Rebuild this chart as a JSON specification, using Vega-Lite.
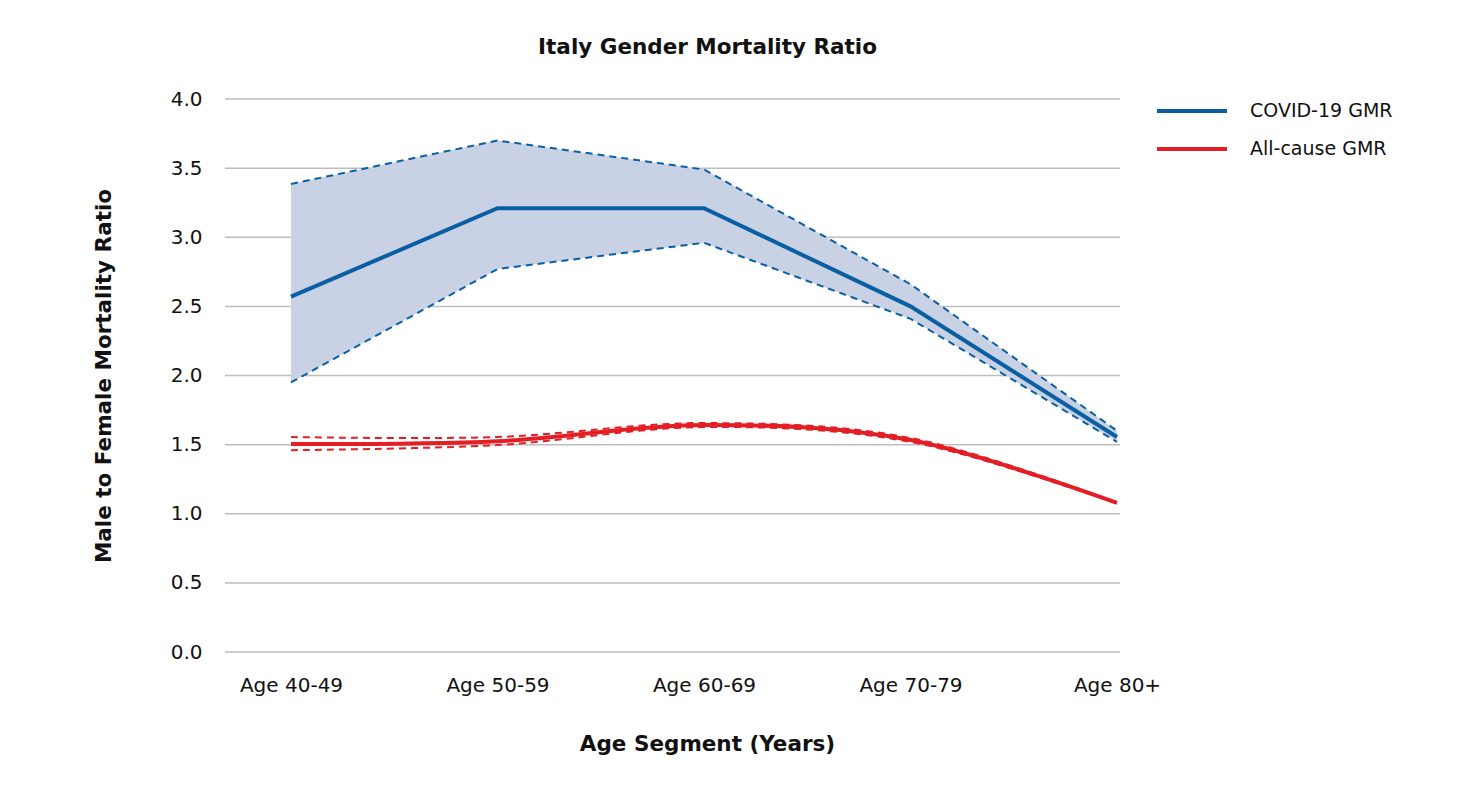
{
  "$schema": "https://vega.github.io/schema/vega-lite/v6.json",
  "width": 895,
  "height": 553,
  "autosize": {"type": "none"},
  "padding": {"left": 225, "top": 99, "right": 354, "bottom": 153},
  "background": "white",
  "title": {"text": "Italy Gender Mortality Ratio", "font": "DejaVu Sans", "fontSize": 21.5, "fontWeight": "bold", "color": "#111111", "anchor": "middle", "frame": "group", "dx": 35, "offset": 31},
  "config": {
    "view": {"stroke": null},
    "font": "DejaVu Sans",
    "axis": {"labelFont": "DejaVu Sans", "titleFont": "DejaVu Sans", "labelColor": "#111111", "titleColor": "#111111"},
    "legend": {"labelFont": "DejaVu Sans"}
  },
  "data": {"values": [
    {"age": "Age 40-49", "series": "COVID-19 GMR", "value": 2.57, "lo": 1.95, "hi": 3.385},
    {"age": "Age 50-59", "series": "COVID-19 GMR", "value": 3.21, "lo": 2.77, "hi": 3.70},
    {"age": "Age 60-69", "series": "COVID-19 GMR", "value": 3.21, "lo": 2.96, "hi": 3.49},
    {"age": "Age 70-79", "series": "COVID-19 GMR", "value": 2.50, "lo": 2.41, "hi": 2.66},
    {"age": "Age 80+", "series": "COVID-19 GMR", "value": 1.555, "lo": 1.52, "hi": 1.60},
    {"age": "Age 40-49", "series": "All-cause GMR", "value": 1.505, "lo": 1.46, "hi": 1.555},
    {"age": "Age 50-59", "series": "All-cause GMR", "value": 1.525, "lo": 1.497, "hi": 1.555},
    {"age": "Age 60-69", "series": "All-cause GMR", "value": 1.642, "lo": 1.627, "hi": 1.656},
    {"age": "Age 70-79", "series": "All-cause GMR", "value": 1.533, "lo": 1.52, "hi": 1.548},
    {"age": "Age 80+", "series": "All-cause GMR", "value": 1.078, "lo": 1.074, "hi": 1.082}
  ]},
  "layer": [
    {
      "data": {"values": [{"grid": 0}, {"grid": 0.5}, {"grid": 1}, {"grid": 1.5}, {"grid": 2}, {"grid": 2.5}, {"grid": 3}, {"grid": 3.5}, {"grid": 4}]},
      "mark": {"type": "rule", "color": "#bdbdbd", "strokeWidth": 1.5},
      "encoding": {
        "y": {"field": "grid", "type": "quantitative",
          "scale": {"domain": [0, 4]},
          "axis": {"title": "Male to Female Mortality Ratio", "format": ".1f", "values": [0, 0.5, 1, 1.5, 2, 2.5, 3, 3.5, 4], "grid": false, "labelFontSize": 20, "labelPadding": 23, "ticks": false, "domain": false, "titleFontSize": 21.5, "titleFontWeight": "bold", "titlePadding": 55}}
      }
    },
    {
      "transform": [{"filter": "datum.series == 'COVID-19 GMR'"}],
      "mark": {"type": "area", "color": "#c8d2e4", "opacity": 1},
      "encoding": {
        "x": {
          "field": "age", "type": "ordinal",
          "sort": ["Age 40-49", "Age 50-59", "Age 60-69", "Age 70-79", "Age 80+"],
          "scale": {"type": "point", "range": [66, 892], "padding": 0},
          "axis": {"title": "Age Segment (Years)", "labelAngle": 0, "labelFontSize": 20, "labelPadding": 23, "ticks": false, "domain": false, "grid": false, "titleFontSize": 21.5, "titleFontWeight": "bold", "titlePadding": 38, "titleX": 482}
        },
        "y": {"field": "lo", "type": "quantitative"},
        "y2": {"field": "hi"}
      }
    },
    {
      "transform": [{"filter": "datum.series == 'COVID-19 GMR'"}],
      "mark": {"type": "line", "color": "#0a5fa3", "strokeWidth": 2, "strokeDash": [7, 5]},
      "encoding": {"x": {"field": "age", "type": "ordinal", "sort": ["Age 40-49", "Age 50-59", "Age 60-69", "Age 70-79", "Age 80+"]}, "y": {"field": "lo", "type": "quantitative"}}
    },
    {
      "transform": [{"filter": "datum.series == 'COVID-19 GMR'"}],
      "mark": {"type": "line", "color": "#0a5fa3", "strokeWidth": 2, "strokeDash": [7, 5]},
      "encoding": {"x": {"field": "age", "type": "ordinal", "sort": ["Age 40-49", "Age 50-59", "Age 60-69", "Age 70-79", "Age 80+"]}, "y": {"field": "hi", "type": "quantitative"}}
    },
    {
      "transform": [{"filter": "datum.series == 'All-cause GMR'"}],
      "mark": {"type": "line", "color": "#e31e24", "strokeWidth": 2, "strokeDash": [7, 5], "interpolate": "cardinal"},
      "encoding": {"x": {"field": "age", "type": "ordinal", "sort": ["Age 40-49", "Age 50-59", "Age 60-69", "Age 70-79", "Age 80+"]}, "y": {"field": "lo", "type": "quantitative"}}
    },
    {
      "transform": [{"filter": "datum.series == 'All-cause GMR'"}],
      "mark": {"type": "line", "color": "#e31e24", "strokeWidth": 2, "strokeDash": [7, 5], "interpolate": "cardinal"},
      "encoding": {"x": {"field": "age", "type": "ordinal", "sort": ["Age 40-49", "Age 50-59", "Age 60-69", "Age 70-79", "Age 80+"]}, "y": {"field": "hi", "type": "quantitative"}}
    },
    {
      "transform": [{"filter": "datum.series == 'COVID-19 GMR'"}],
      "mark": {"type": "line", "strokeWidth": 4},
      "encoding": {
        "x": {"field": "age", "type": "ordinal", "sort": ["Age 40-49", "Age 50-59", "Age 60-69", "Age 70-79", "Age 80+"]},
        "y": {"field": "value", "type": "quantitative"},
        "color": {"field": "series", "type": "nominal",
          "scale": {"domain": ["COVID-19 GMR", "All-cause GMR"], "range": ["#0a5fa3", "#e31e24"]},
          "legend": {"title": null, "orient": "none", "legendX": 930, "legendY": 2, "symbolType": "stroke", "symbolSize": 4900, "symbolStrokeWidth": 4, "labelFontSize": 19, "labelOffset": 21, "clipHeight": 20, "rowPadding": 18, "labelColor": "#111111"}}
      }
    },
    {
      "transform": [{"filter": "datum.series == 'All-cause GMR'"}],
      "mark": {"type": "line", "strokeWidth": 4, "interpolate": "cardinal"},
      "encoding": {
        "x": {"field": "age", "type": "ordinal", "sort": ["Age 40-49", "Age 50-59", "Age 60-69", "Age 70-79", "Age 80+"]},
        "y": {"field": "value", "type": "quantitative"},
        "color": {"field": "series", "type": "nominal"}
      }
    }
  ]
}
